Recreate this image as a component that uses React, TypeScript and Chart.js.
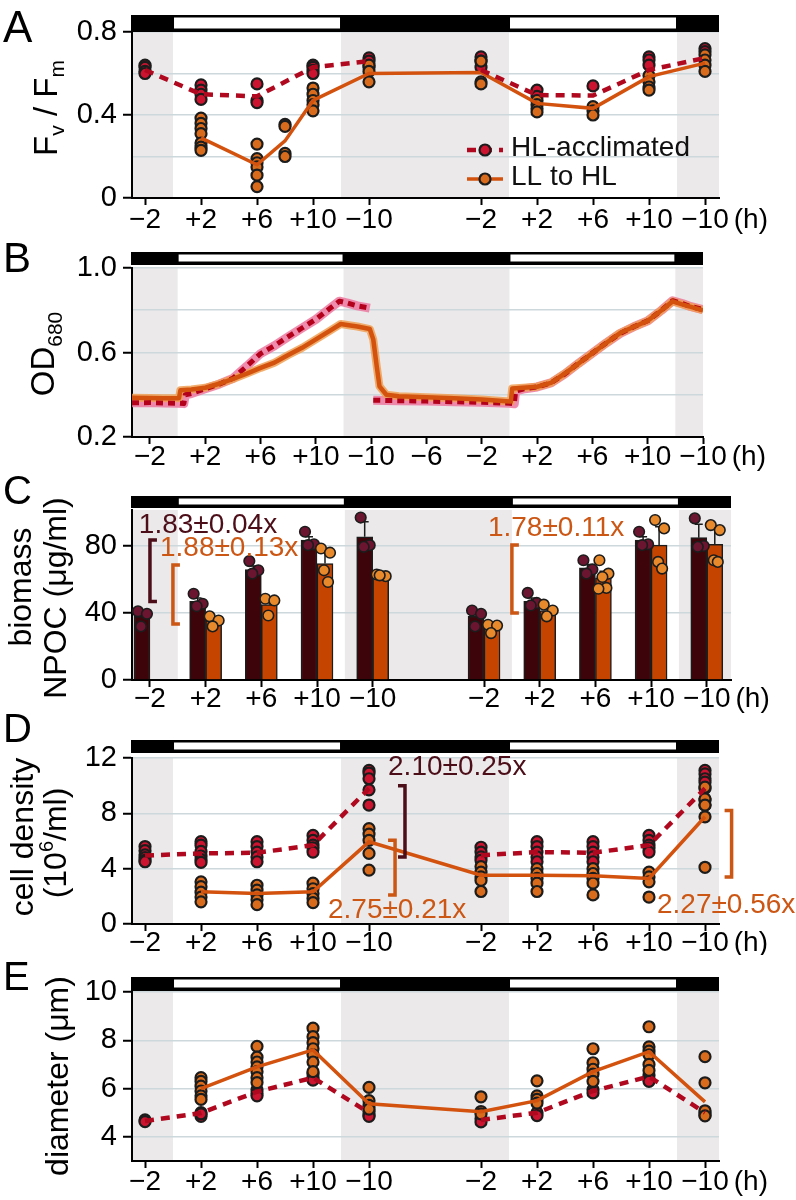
import { useEffect, useRef } from 'react';
import { Chart, registerables } from 'chart.js';

Chart.register(...registerables);

const FONT = "'Liberation Sans', Arial, Helvetica, sans-serif";
const W = 796;

// Colours
const SHADE = '#ebe9ea';
const GRID = '#cdd8dc';
const HL_LINE = '#b0081e';
const HL_FILL = '#cc1430';
const LL_LINE = '#d2520e';
const LL_FILL = '#d96c1c';
const EDGE = '#1c1c1c';
const HL_BAR = '#3d0509';
const LL_BAR = '#c54500';
const HL_DOT = '#6b1531';
const LL_DOT = '#e88a2c';
const HL_NOTE = '#4c0e18';
const LL_NOTE = '#cc5614';

// Sampling schedule, in hours after the first lights-on (light 0–12 h and 24–36 h)
const sampleHours = [-2, 2, 6, 10, 14, 22, 26, 30, 34, 38];
const sampleLabels = ['−2', '+2', '+6', '+10', '−10', '−2', '+2', '+6', '+10', '−10'];
const odTickHours = [-2, 2, 6, 10, 14, 18, 22, 26, 30, 34, 38];
const odTickLabels = ['−2', '+2', '+6', '+10', '−10', '−6', '−2', '+2', '+6', '+10', '−10'];
const lightPeriods = [
  [0, 12],
  [24, 36],
];

// ---------- A: Fv/Fm ----------
const fvfmTicks = [0, 0.2, 0.4, 0.6, 0.8];
const fvfmTickLabels: [number, string][] = [[0, '0'], [0.4, '0.4'], [0.8, '0.8']];
const fvfmHLMean = [0.617, 0.5, 0.49, 0.63, 0.66, 0.617, 0.496, 0.494, 0.617, 0.675];
const fvfmLLHours = [2, 6, 8, 10, 14, 22, 26, 30, 34, 38];
const fvfmLLMean = [0.29, 0.16, 0.275, 0.47, 0.6, 0.605, 0.456, 0.432, 0.585, 0.65];
const fvfmHLReps = [
  [0.64, 0.63, 0.61, 0.6],
  [0.545, 0.52, 0.5, 0.475],
  [0.55, 0.47, 0.46],
  [0.64, 0.63, 0.615, 0.6],
  [0.675, 0.66, 0.63],
  [0.68, 0.66, 0.63],
  [0.52, 0.49],
  [0.54],
  [0.68, 0.665, 0.64],
  [0.72, 0.705],
];
const fvfmLLReps = [
  [0.385, 0.36, 0.335, 0.31, 0.265, 0.245, 0.23],
  [0.26, 0.19, 0.17, 0.15, 0.11, 0.055],
  [0.355, 0.345, 0.215, 0.2],
  [0.53, 0.5, 0.47, 0.45, 0.42],
  [0.64, 0.61, 0.56],
  [0.66, 0.56, 0.55],
  [0.47, 0.45, 0.43, 0.415],
  [0.44, 0.42, 0.4],
  [0.59, 0.56, 0.535, 0.52],
  [0.69, 0.665, 0.64, 0.61],
];

// ---------- B: OD680 online trace ----------
const odTicks = [0.2, 0.4, 0.6, 0.8, 1.0];
const odTickValueLabels: [number, string][] = [[0.2, '0.2'], [0.6, '0.6'], [1.0, '1.0']];
const odHLHours = [
  -3.3, -2, -1, 0, 0.45, 0.55, 1, 2, 3, 4, 5, 6, 7, 8, 9, 10, 11, 11.7, 12.3, 13, 13.9, 14.0, 14.15, 16, 18, 20,
  22, 24, 24.35, 24.45, 25, 26, 27, 28, 29, 30, 31, 32, 33, 34, 35, 35.8, 36.5, 37, 38,
];
const odHL = [
  0.362, 0.363, 0.361, 0.36, 0.358, 0.4, 0.406, 0.428, 0.45, 0.478, 0.535, 0.595, 0.632, 0.675, 0.716, 0.757,
  0.808, 0.843, 0.834, 0.821, 0.81, null, 0.374, 0.372, 0.37, 0.367, 0.364, 0.36, 0.357, 0.418, 0.427, 0.437,
  0.456, 0.498, 0.549, 0.597, 0.645, 0.69, 0.722, 0.75, 0.8, 0.845, 0.832, 0.82, 0.803,
];
const odLLHours = [
  -3.3, -2, -1, 0, 0.1, 0.2, 1, 2, 3, 4, 5, 6, 7, 8, 9, 10, 11, 11.8, 12.5, 13, 13.9, 14.15, 14.4, 14.6, 15.1, 16,
  18, 20, 22, 24, 24.1, 24.2, 25, 26, 27, 28, 29, 30, 31, 32, 33, 34, 35, 35.8, 36.5, 37, 38,
];
const odLL = [
  0.386, 0.385, 0.384, 0.383, 0.384, 0.421, 0.425, 0.433, 0.452, 0.475, 0.5, 0.527, 0.552, 0.588, 0.622, 0.662,
  0.702, 0.735, 0.728, 0.723, 0.711, 0.662, 0.535, 0.44, 0.4, 0.393, 0.388, 0.383, 0.377, 0.368, 0.368, 0.43,
  0.433, 0.438, 0.456, 0.5, 0.548, 0.597, 0.645, 0.692, 0.722, 0.75, 0.8, 0.842, 0.828, 0.818, 0.8,
];

// ---------- C: biomass (NPOC) ----------
const npocTicks = [0, 20, 40, 60, 80, 100];
const npocTickLabels: [number, string][] = [[0, '0'], [40, '40'], [80, '80']];
const npocHL = [38, 47, 66, 83.5, 85.5, 38, 47, 67, 83.5, 85];
const npocLL = [null, 35.5, 45, 69.5, 62.5, 31, 41.5, 61, 80.5, 81];
const npocHLErr = [2, 2, 2, 2, 9, 2, 2, 2, 2, 8];
const npocLLErr = [0, 1, 3, 7, 1, 1, 1, 4, 11, 9];
const npocHLReps = [
  [41, 39.5, 32],
  [51.5, 45.5, 44],
  [71, 65.5, 63.5],
  [88.5, 81, 80.5],
  [97, 80.5, 79.5],
  [41.5, 39.5, 32],
  [52, 46, 44.5],
  [71.5, 66, 63.5],
  [88.5, 81, 80.5],
  [96.5, 80, 79.5],
];
const npocLLReps = [
  [],
  [38, 35.5, 32],
  [48.5, 47.5, 38.5],
  [78.5, 76, 65.5, 58.5],
  [63, 62, 62.5],
  [33, 32.5, 28],
  [45, 41.5, 38],
  [71.5, 63.5, 61.5, 55, 54.5],
  [95.5, 90.5, 70.5, 66.5],
  [92.5, 89.5, 71.5, 70.5],
];

// ---------- D: cell density ----------
const cellTicks = [0, 2, 4, 6, 8, 10, 12];
const cellTickLabels: [number, string][] = [[0, '0'], [4, '4'], [8, '8'], [12, '12']];
const cellHLMean = [4.95, 5.1, 5.15, 5.7, 9.8, 4.97, 5.2, 5.15, 5.7, 9.8];
const cellLLHours = [2, 6, 10, 14, 22, 26, 30, 34, 38];
const cellLLMean = [2.33, 2.2, 2.33, 5.94, 3.53, 3.53, 3.48, 3.29, 7.75];
const cellHLReps = [
  [5.6, 5.3, 5.0, 4.8, 4.6, 4.5],
  [5.95, 5.7, 5.25, 4.9, 4.65, 4.45],
  [5.95, 5.6, 5.2, 4.85, 4.5],
  [6.4, 6.05, 5.7, 5.5, 5.2],
  [11.1, 10.9, 10.5, 9.7, 8.6],
  [5.55, 5.2, 4.85, 4.6],
  [5.95, 5.6, 5.2, 4.85, 4.5],
  [5.95, 5.6, 5.2, 4.85, 4.5],
  [6.4, 6.05, 5.7, 5.5, 5.2],
  [11.1, 10.85, 10.5, 10.25, 9.8, 8.95, 8.6],
];
const cellLLReps = [
  [3.05, 2.7, 2.3, 1.95, 1.6],
  [2.8, 2.45, 2.1, 1.75, 1.4],
  [2.95, 2.55, 2.2, 1.85, 1.55],
  [6.9, 6.5, 6.05, 5.1, 3.9],
  [4.15, 3.75, 3.4, 3.15, 2.35],
  [4.0, 3.65, 3.3, 2.95, 2.35],
  [4.0, 3.65, 3.3, 2.95, 2.1],
  [3.75, 3.4, 3.05, 1.95],
  [9.9, 9.05, 8.6, 7.75, 4.1],
];

// ---------- E: cell diameter ----------
const diamTicks = [4, 6, 8, 10];
const diamTickLabels: [number, string][] = [[4, '4'], [6, '6'], [8, '8'], [10, '10']];
const diamHLMean = [4.66, 4.99, 5.87, 6.45, 5.0, 4.7, 5.0, 5.9, 6.5, 5.0];
const diamLLHours = [2, 6, 10, 14, 22, 26, 30, 34, 38];
const diamLLMean = [6.0, 6.9, 7.6, 5.37, 5.04, 5.5, 6.7, 7.53, 5.45];
const diamHLReps = [
  [4.7, 4.63],
  [5.0, 4.85, 4.95],
  [5.95, 5.8, 5.7],
  [6.6, 6.45, 6.35],
  [5.05, 4.9, 4.85],
  [4.75, 4.62],
  [5.0, 4.88],
  [5.95, 5.82],
  [6.55, 6.4, 6.3],
  [5.0, 4.9],
];
const diamLLReps = [
  [6.45, 6.3, 6.1, 5.9, 5.7, 5.55],
  [7.75, 7.3, 7.1, 6.9, 6.7, 6.45, 6.25],
  [8.5, 8.15, 7.9, 7.65, 7.4, 7.1, 6.7],
  [6.05, 5.5, 5.3, 5.15],
  [5.66, 5.05, 4.95],
  [6.32, 5.7, 5.55, 5.4],
  [7.65, 7.07, 6.8, 6.6, 6.3],
  [8.56, 7.73, 7.55, 7.4, 7.0, 6.75],
  [7.32, 6.24, 5.08, 4.87],
];

// ---------- helpers ----------
const px = (s: number) => `${s}px ${FONT}`;
const JITTER = [-4, 5, -1, 3, -5];

function makeXAxis(min: number, max: number, hours: number[], labels: string[], axisH: number, labelPad: number) {
  return {
    type: 'linear',
    min,
    max,
    offset: false,
    afterBuildTicks: (s: any) => {
      s.ticks = hours.map((v) => ({ value: v }));
    },
    afterFit: (s: any) => {
      s.height = axisH;
      s.paddingLeft = 0;
      s.paddingRight = 0;
    },
    ticks: {
      autoSkip: false,
      maxRotation: 0,
      minRotation: 0,
      color: '#000',
      padding: labelPad,
      font: { family: FONT, size: 28, lineHeight: 1 },
      callback: (_v: any, i: number) => labels[i],
    },
    grid: { display: true, drawOnChartArea: false, offset: false, drawTicks: true, tickLength: 7, tickWidth: 2, tickColor: '#000' },
    border: { display: true, color: '#000', width: 2 },
  };
}

function makeYAxis(min: number, max: number, grid: number[], labelled: [number, string][]) {
  const lab = (v: number) => {
    for (const [val, t] of labelled) if (Math.abs(val - v) < 1e-6) return t;
    return '';
  };
  return {
    type: 'linear',
    min,
    max,
    afterBuildTicks: (s: any) => {
      s.ticks = grid.map((v) => ({ value: v }));
    },
    afterFit: (s: any) => {
      s.width = 100;
      s.paddingTop = 0;
      s.paddingBottom = 0;
    },
    ticks: { color: '#000', padding: 6, font: { family: FONT, size: 29 }, callback: (v: number) => lab(v) },
    grid: {
      color: GRID,
      lineWidth: 1.5,
      drawTicks: true,
      tickLength: 9,
      tickWidth: 2,
      tickColor: (c: any) => (c.tick && lab(c.tick.value) ? '#000' : 'rgba(0,0,0,0)'),
    },
    border: { display: true, color: '#000', width: 2 },
  };
}

function meanLine(hours: number[], values: (number | null)[], color: string, dashed: boolean, breakAt?: number) {
  const data: { x: number; y: number | null }[] = [];
  hours.forEach((h, i) => {
    if (breakAt !== undefined && h === breakAt && i > 0) data.push({ x: (h + hours[i - 1]) / 2, y: null });
    data.push({ x: h, y: values[i] });
  });
  return {
    type: 'line',
    data,
    borderColor: color,
    borderWidth: dashed ? 4.5 : 3.5,
    borderDash: dashed ? [9, 7] : [],
    pointRadius: 0,
    tension: 0,
    spanGaps: false,
    fill: false,
  };
}

function repDots(hours: number[], groups: number[][], fill: string) {
  return {
    type: 'line',
    data: hours.flatMap((h, i) => groups[i].map((v) => ({ x: h, y: v }))),
    showLine: false,
    pointRadius: 5.5,
    pointBorderWidth: 2.2,
    pointBackgroundColor: fill,
    pointBorderColor: EDGE,
    clip: false,
  };
}

type Seg = { t: string; size: number; dy?: number };
type TitleLine = { x: number; cy: number; segs: Seg[] };

function drawRotated(ctx: CanvasRenderingContext2D, line: TitleLine) {
  ctx.save();
  ctx.translate(line.x, line.cy);
  ctx.rotate(-Math.PI / 2);
  ctx.textAlign = 'left';
  ctx.textBaseline = 'alphabetic';
  ctx.fillStyle = '#000';
  const widths = line.segs.map((s) => {
    ctx.font = px(s.size);
    return ctx.measureText(s.t).width;
  });
  const total = widths.reduce((p, c) => p + c, 0);
  let cx = -total / 2;
  line.segs.forEach((s, i) => {
    ctx.font = px(s.size);
    ctx.fillText(s.t, cx, s.dy ?? 0);
    cx += widths[i];
  });
  ctx.restore();
}

function bracket(ctx: CanvasRenderingContext2D, x: number, yTop: number, yBot: number, dir: number, color: string) {
  ctx.save();
  ctx.strokeStyle = color;
  ctx.lineWidth = 3.5;
  ctx.lineJoin = 'miter';
  ctx.beginPath();
  ctx.moveTo(x + dir * 7, yTop);
  ctx.lineTo(x, yTop);
  ctx.lineTo(x, yBot);
  ctx.lineTo(x + dir * 7, yBot);
  ctx.stroke();
  ctx.restore();
}

function note(ctx: CanvasRenderingContext2D, text: string, x: number, y: number, color: string) {
  ctx.save();
  ctx.font = px(28);
  ctx.fillStyle = color;
  ctx.textAlign = 'left';
  ctx.textBaseline = 'middle';
  ctx.fillText(text, x, y);
  ctx.restore();
}

function decorPlugin(p: any) {
  return {
    id: 'decor' + p.letter,
    beforeDraw(chart: any) {
      const { ctx, chartArea: a, scales } = chart;
      const x = scales.x;
      ctx.save();
      ctx.fillStyle = SHADE;
      const dark = [
        [x.min, lightPeriods[0][0]],
        [lightPeriods[0][1], lightPeriods[1][0]],
        [lightPeriods[1][1], x.max],
      ];
      dark.forEach(([h0, h1]) => {
        const p0 = Math.max(a.left, x.getPixelForValue(h0));
        const p1 = Math.min(a.right, x.getPixelForValue(h1));
        if (p1 > p0) ctx.fillRect(p0, a.top, p1 - p0, a.bottom - a.top);
      });
      ctx.restore();
    },
    afterDraw(chart: any) {
      const { ctx, chartArea: a, scales } = chart;
      const x = scales.x;
      ctx.save();
      // light / dark regime bar
      const [y0, y1] = p.bar;
      ctx.fillStyle = '#000';
      ctx.fillRect(a.left - 1, y0, a.right - a.left + 1, y1 - y0);
      ctx.fillStyle = '#fff';
      lightPeriods.forEach(([h0, h1]) => {
        const p0 = x.getPixelForValue(h0) + 1;
        const p1 = x.getPixelForValue(h1) - 1;
        ctx.fillRect(p0, y0 + 2.5, p1 - p0, y1 - y0 - 6);
      });
      // panel letter
      ctx.fillStyle = '#000';
      ctx.font = px(p.letterSize);
      ctx.textAlign = 'left';
      ctx.textBaseline = 'alphabetic';
      ctx.fillText(p.letter, 3, p.letterY);
      // axis title
      p.title.forEach((line: TitleLine) => drawRotated(ctx, line));
      // unit after the last time label
      const lastLabel = p.tickLabels[p.tickLabels.length - 1];
      const lp = x.getPixelForValue(p.tickHours[p.tickHours.length - 1]);
      ctx.font = px(28);
      const lw = ctx.measureText(lastLabel).width;
      ctx.textBaseline = 'middle';
      ctx.fillText('(h)', lp + lw / 2 + 5, a.bottom + 7 + p.labelPad + 14);
      ctx.restore();
      if (p.extra) p.extra(chart);
    },
  };
}

// ---------- panel-specific overlays ----------
function legendA(chart: any) {
  const ctx: CanvasRenderingContext2D = chart.ctx;
  const rows = [
    { y: 150, label: 'HL-acclimated', line: HL_LINE, fill: HL_FILL, dash: [9, 7], w: 4.5 },
    { y: 179, label: 'LL to HL', line: LL_LINE, fill: LL_FILL, dash: [] as number[], w: 3.5 },
  ];
  rows.forEach((r) => {
    ctx.save();
    ctx.strokeStyle = r.line;
    ctx.lineWidth = r.w;
    ctx.setLineDash(r.dash);
    ctx.beginPath();
    ctx.moveTo(467, r.y);
    ctx.lineTo(503, r.y);
    ctx.stroke();
    ctx.setLineDash([]);
    ctx.beginPath();
    ctx.arc(485, r.y, 5.5, 0, Math.PI * 2);
    ctx.fillStyle = r.fill;
    ctx.fill();
    ctx.lineWidth = 2.2;
    ctx.strokeStyle = EDGE;
    ctx.stroke();
    ctx.fillStyle = '#111';
    ctx.font = px(28);
    ctx.textBaseline = 'middle';
    ctx.textAlign = 'left';
    ctx.fillText(r.label, 511, r.y - 2);
    ctx.restore();
  });
}

function overlayC(chart: any) {
  const ctx: CanvasRenderingContext2D = chart.ctx;
  const { x, y } = chart.scales;
  const sets = [
    { i: 0, means: npocHL, err: npocHLErr, reps: npocHLReps, fill: HL_DOT },
    { i: 1, means: npocLL, err: npocLLErr, reps: npocLLReps, fill: LL_DOT },
  ];
  ctx.save();
  sets.forEach((s) => {
    const meta = chart.getDatasetMeta(s.i);
    meta.data.forEach((bar: any, j: number) => {
      const m = s.means[j];
      if (m == null || !s.err[j]) return;
      const yb = y.getPixelForValue(m);
      const yt = y.getPixelForValue(m + s.err[j]);
      ctx.strokeStyle = EDGE;
      ctx.lineWidth = 1.5;
      ctx.beginPath();
      ctx.moveTo(bar.x, yb);
      ctx.lineTo(bar.x, yt);
      ctx.moveTo(bar.x - 4, yt);
      ctx.lineTo(bar.x + 4, yt);
      ctx.stroke();
    });
  });
  sets.forEach((s) => {
    const meta = chart.getDatasetMeta(s.i);
    meta.data.forEach((bar: any, j: number) => {
      s.reps[j].forEach((v: number, k: number) => {
        ctx.beginPath();
        ctx.arc(bar.x + JITTER[k % JITTER.length], y.getPixelForValue(v), 5.3, 0, Math.PI * 2);
        ctx.fillStyle = s.fill;
        ctx.fill();
        ctx.lineWidth = 1.6;
        ctx.strokeStyle = EDGE;
        ctx.stroke();
      });
    });
  });
  ctx.restore();
  bracket(ctx, x.getPixelForValue(-2), y.getPixelForValue(83.6), y.getPixelForValue(46.8), 1, HL_NOTE);
  bracket(ctx, x.getPixelForValue(-0.35), y.getPixelForValue(68.7), y.getPixelForValue(33.4), 1, LL_NOTE);
  bracket(ctx, x.getPixelForValue(24), y.getPixelForValue(80.6), y.getPixelForValue(40), 1, LL_NOTE);
  note(ctx, '1.83±0.04x', x.getPixelForValue(-2.8), y.getPixelForValue(92.5), HL_NOTE);
  note(ctx, '1.88±0.13x', x.getPixelForValue(-1.28), y.getPixelForValue(78.8), LL_NOTE);
  note(ctx, '1.78±0.11x', x.getPixelForValue(22.28), y.getPixelForValue(90.7), LL_NOTE);
}

function overlayD(chart: any) {
  const ctx: CanvasRenderingContext2D = chart.ctx;
  const { x, y } = chart.scales;
  bracket(ctx, x.getPixelForValue(16.57), y.getPixelForValue(10.0), y.getPixelForValue(4.85), -1, HL_NOTE);
  bracket(ctx, x.getPixelForValue(15.86), y.getPixelForValue(6.05), y.getPixelForValue(2.1), -1, LL_NOTE);
  bracket(ctx, x.getPixelForValue(39.9), y.getPixelForValue(8.2), y.getPixelForValue(3.4), -1, LL_NOTE);
  note(ctx, '2.10±0.25x', x.getPixelForValue(15.36), y.getPixelForValue(11.3), HL_NOTE);
  note(ctx, '2.75±0.21x', x.getPixelForValue(11.07), y.getPixelForValue(1.0), LL_NOTE);
  note(ctx, '2.27±0.56x', x.getPixelForValue(34.57), y.getPixelForValue(1.37), LL_NOTE);
}

function timeCourse(hlMean: number[], llHours: number[], llMean: number[], hlReps: number[][], llReps: number[][]) {
  return [
    meanLine(sampleHours, hlMean, HL_LINE, true, 22),
    meanLine(llHours, llMean, LL_LINE, false),
    repDots(llHours, llReps, LL_FILL),
    repDots(sampleHours, hlReps, HL_FILL),
  ];
}

function odTrace(hours: number[], values: (number | null)[], color: string, width: number, dash: number[]) {
  return {
    type: 'line',
    data: hours.map((h, i) => ({ x: h, y: values[i] })),
    borderColor: color,
    borderWidth: width,
    borderDash: dash,
    borderJoinStyle: 'round',
    pointRadius: 0,
    tension: 0,
    spanGaps: false,
    fill: false,
  };
}

const PANELS: any[] = [
  {
    letter: 'A', letterSize: 44, top: 0, height: 240, letterY: 42, bar: [15, 32], labelPad: 1,
    area: { top: 32, bottom: 198, right: 719 }, xMin: -2.93, xMax: 39,
    tickHours: sampleHours, tickLabels: sampleLabels, type: 'line',
    title: [{ x: 57, cy: 108, segs: [{ t: 'F', size: 33 }, { t: 'v', size: 21, dy: 7 }, { t: ' / ', size: 33 }, { t: 'F', size: 33 }, { t: 'm', size: 21, dy: 7 }] }],
    yAxis: () => makeYAxis(0, 0.8, fvfmTicks, fvfmTickLabels),
    datasets: () => timeCourse(fvfmHLMean, fvfmLLHours, fvfmLLMean, fvfmHLReps, fvfmLLReps),
    extra: legendA,
  },
  {
    letter: 'B', letterSize: 42, top: 240, height: 235, letterY: 32, bar: [12, 25], labelPad: -1,
    area: { top: 28, bottom: 197, right: 703 }, xMin: -3.3, xMax: 38,
    tickHours: odTickHours, tickLabels: odTickLabels, type: 'line',
    title: [{ x: 54, cy: 114, segs: [{ t: 'OD', size: 33 }, { t: '680', size: 21, dy: 8 }] }],
    yAxis: () => makeYAxis(0.2, 1.0, odTicks, odTickValueLabels),
    datasets: () => [
      odTrace(odLLHours, odLL, LL_LINE, 4.5, []),
      odTrace(odHLHours, odHL, '#b3001b', 5, [7, 5]),
      odTrace(odLLHours, odLL, 'rgba(240,160,85,0.85)', 8, []),
      odTrace(odHLHours, odHL, 'rgba(236,120,160,0.85)', 9, []),
    ],
  },
  {
    letter: 'C', letterSize: 40, top: 475, height: 240, letterY: 29, bar: [21, 33], labelPad: -2,
    area: { top: 35, bottom: 205, right: 731 }, xMin: -3.29, xMax: 39.74,
    tickHours: sampleHours, tickLabels: sampleLabels, type: 'bar',
    title: [
      { x: 31, cy: 112, segs: [{ t: 'biomass', size: 32 }] },
      { x: 66, cy: 123, segs: [{ t: 'NPOC (μg/ml)', size: 32 }] },
    ],
    yAxis: () => makeYAxis(0, 101.5, npocTicks, npocTickLabels),
    datasets: () => [
      { data: sampleHours.map((h, i) => ({ x: h, y: npocHL[i] })), backgroundColor: HL_BAR, borderColor: EDGE, borderWidth: 1.5, barThickness: 16 },
      { data: sampleHours.map((h, i) => ({ x: h, y: npocLL[i] })), backgroundColor: LL_BAR, borderColor: EDGE, borderWidth: 1.5, barThickness: 16 },
    ],
    extra: overlayC,
  },
  {
    letter: 'D', letterSize: 40, top: 705, height: 250, letterY: 37, bar: [35, 48], labelPad: -2,
    area: { top: 53, bottom: 219, right: 719 }, xMin: -2.93, xMax: 39,
    tickHours: sampleHours, tickLabels: sampleLabels, type: 'line',
    title: [
      { x: 33, cy: 132, segs: [{ t: 'cell density', size: 32 }] },
      { x: 66, cy: 138, segs: [{ t: '(10', size: 32 }, { t: '6', size: 20, dy: -13 }, { t: '/ml)', size: 32 }] },
    ],
    yAxis: () => makeYAxis(0, 12, cellTicks, cellTickLabels),
    datasets: () => timeCourse(cellHLMean, cellLLHours, cellLLMean, cellHLReps, cellLLReps),
    extra: overlayD,
  },
  {
    letter: 'E', letterSize: 40, top: 955, height: 245, letterY: 35, bar: [22, 36], labelPad: 0,
    area: { top: 37, bottom: 206, right: 719 }, xMin: -2.93, xMax: 39,
    tickHours: sampleHours, tickLabels: sampleLabels, type: 'line',
    title: [{ x: 68, cy: 121, segs: [{ t: 'diameter (μm)', size: 32 }] }],
    yAxis: () => makeYAxis(3, 10, diamTicks, diamTickLabels),
    datasets: () => timeCourse(diamHLMean, diamLLHours, diamLLMean, diamHLReps, diamLLReps),
  },
];

function buildConfig(p: any) {
  const axisH = p.height - p.area.bottom;
  return {
    type: p.type,
    data: { datasets: p.datasets() },
    options: {
      responsive: false,
      maintainAspectRatio: false,
      animation: false,
      devicePixelRatio: 1,
      events: [],
      layout: { padding: { top: p.area.top, left: 32, right: W - p.area.right, bottom: 0 } },
      plugins: { legend: { display: false }, tooltip: { enabled: false } },
      scales: {
        x: makeXAxis(p.xMin, p.xMax, p.tickHours, p.tickLabels, axisH, p.labelPad),
        y: p.yAxis(),
      },
    },
    plugins: [decorPlugin(p)],
  };
}

export default function App() {
  const refs = useRef<(HTMLCanvasElement | null)[]>([]);
  useEffect(() => {
    Chart.defaults.font.family = FONT;
    const charts = PANELS.map((p, i) => new Chart(refs.current[i] as HTMLCanvasElement, buildConfig(p) as any));
    return () => charts.forEach((c) => c.destroy());
  }, []);
  return (
    <div style={{ position: 'absolute', left: 0, top: 0, width: W, height: 1200, background: '#fff' }}>
      {PANELS.map((p, i) => (
        <canvas
          key={p.letter}
          ref={(el) => {
            refs.current[i] = el;
          }}
          width={W}
          height={p.height}
          style={{ position: 'absolute', left: 0, top: p.top, width: W, height: p.height }}
        />
      ))}
    </div>
  );
}
